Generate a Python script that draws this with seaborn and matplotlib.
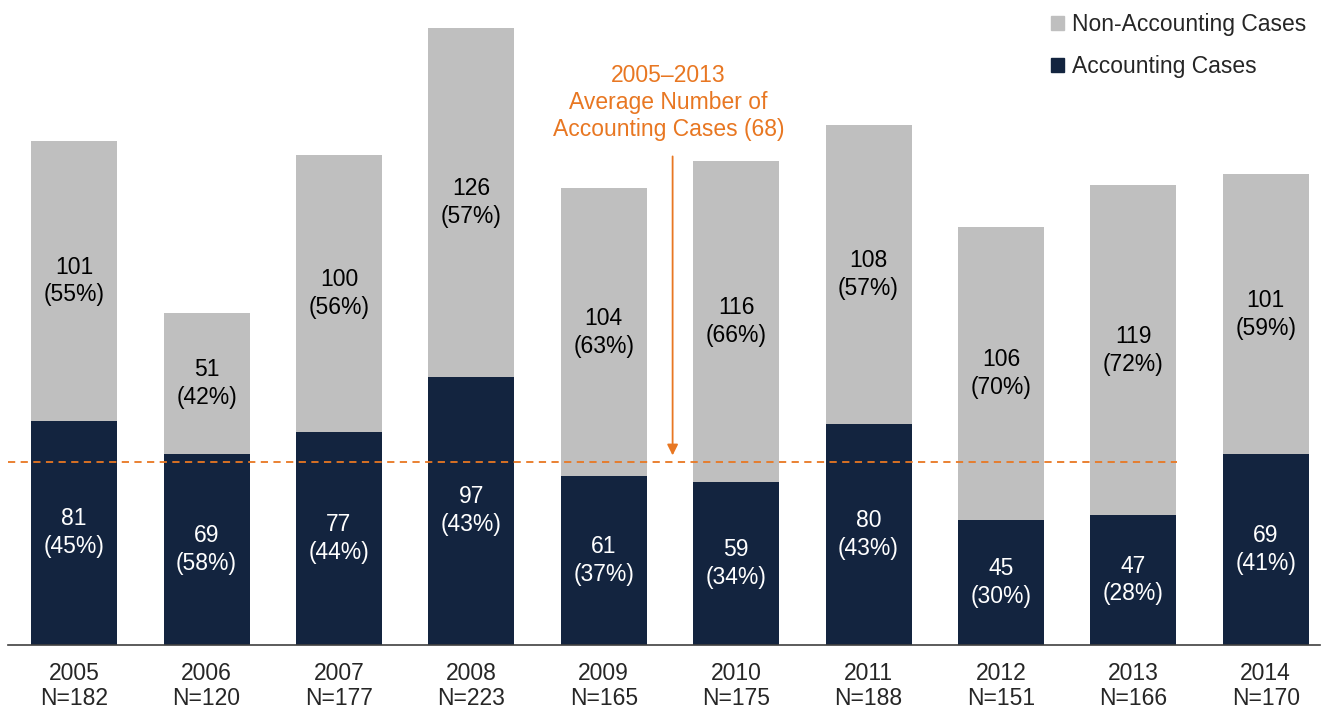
import matplotlib
matplotlib.use("Agg")
import matplotlib.pyplot as plt
from matplotlib.patches import Patch
import seaborn as sns
import pandas as pd

years = ["2005", "2006", "2007", "2008", "2009", "2010", "2011", "2012", "2013", "2014"]
accounting = [81, 69, 77, 97, 61, 59, 80, 45, 47, 69]
non_accounting = [101, 51, 100, 126, 104, 116, 108, 106, 119, 101]
acc_pct = [45, 58, 44, 43, 37, 34, 43, 30, 28, 41]
non_pct = [55, 42, 56, 57, 63, 66, 57, 70, 72, 59]
avg_label = 68
avg_line = 66

NAVY = "#13243F"
GREY = "#BFBFBF"
ORANGE = "#E87722"
FS = 16.5

df = pd.DataFrame({"year": years, "acc": accounting, "non": non_accounting})
df["total"] = df["acc"] + df["non"]

sns.set_style("white")
plt.rcParams["font.family"] = ["Liberation Sans", "DejaVu Sans"]

fig = plt.figure(figsize=(13.28, 7.10), dpi=100)
ax = fig.add_axes([0.006, 0.0915, 0.988, 0.9085])

sns.barplot(data=df, x="year", y="total", color=GREY, width=0.65, saturation=1,
            linewidth=0, ax=ax)
sns.barplot(data=df, x="year", y="acc", color=NAVY, width=0.65, saturation=1,
            linewidth=0, ax=ax)

for i in range(len(years)):
    a = accounting[i]
    n = non_accounting[i]
    ax.text(i, a / 2, f"{a}\n({acc_pct[i]}%)", ha="center", va="center",
            color="white", fontsize=FS, linespacing=1.27)
    ax.text(i, a + n / 2, f"{n}\n({non_pct[i]}%)", ha="center", va="center",
            color="black", fontsize=FS, linespacing=1.27)

# average line across 2005-2013
ax.plot([-0.5, 8.33], [avg_line, avg_line], color=ORANGE, lw=1.3, ls=(0, (4, 3)))
ax.annotate("", xy=(4.52, avg_line + 1.5), xytext=(4.52, 177.5),
            arrowprops=dict(arrowstyle="-|>", color=ORANGE, lw=1.3, mutation_scale=16))
ax.text(4.49, 196, f"2005\u20132013\nAverage Number of\nAccounting Cases ({avg_label})",
        ha="center", va="center", color=ORANGE, fontsize=FS, linespacing=1.23)

ax.set_xlim(-0.5, 9.41)
ax.set_ylim(0, 233)
ax.set_xlabel("")
ax.set_ylabel("")
ax.set_yticks([])
ax.set_xticks(range(len(years)))
ax.set_xticklabels([f"{y}\nN={t}" for y, t in zip(years, df["total"])], fontsize=FS,
                   linespacing=1.1)
ax.tick_params(axis="x", length=0, pad=12)
for s in ["top", "right", "left"]:
    ax.spines[s].set_visible(False)
ax.spines["bottom"].set_color("#404040")
ax.spines["bottom"].set_linewidth(1.2)

handles = [Patch(color=GREY, label="Non-Accounting Cases"),
           Patch(color=NAVY, label="Accounting Cases")]
ax.legend(handles=handles, loc="upper right", bbox_to_anchor=(1.005, 1.012), frameon=False,
          fontsize=FS, handlelength=0.55, handleheight=0.55, handletextpad=0.35,
          labelspacing=0.85)

plt.savefig("out.png", dpi=100)
plt.close()
